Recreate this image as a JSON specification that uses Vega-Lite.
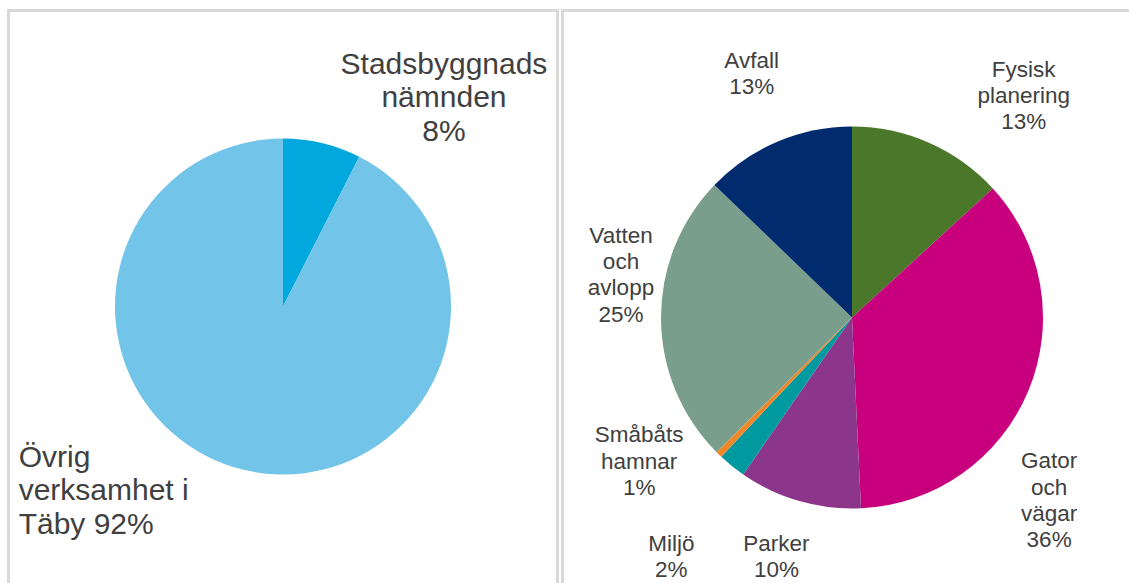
{
  "$schema": "https://vega.github.io/schema/vega-lite/v6.json",
  "background": "white",
  "padding": {"left": 6.5, "top": 8.5, "right": 0, "bottom": 0},
  "autosize": {"type": "pad"},
  "spacing": 5,
  "bounds": "flush",
  "resolve": {"scale": {"color": "independent", "theta": "independent"}},
  "config": {
    "view": {"stroke": "#d9d9d9", "strokeWidth": 3},
    "text": {"font": "Liberation Sans", "fill": "#404040", "lineBreak": "\n", "baseline": "middle"}
  },
  "datasets": {
    "left": [
      {"name": "Stadsbyggnads", "label": "Stadsbyggnads\nnämnden\n8%", "value": 7.5, "order": 1},
      {"name": "Övrig", "label": "Övrig\nverksamhet i\nTäby 92%", "value": 92.5, "order": 2}
    ],
    "right": [
      {"name": "Fysisk", "label": "Fysisk\nplanering\n13%", "value": 13.2, "order": 1},
      {"name": "Gator", "label": "Gator\noch\nvägar\n36%", "value": 36.05, "order": 2},
      {"name": "Parker", "label": "Parker\n10%", "value": 10.4, "order": 3},
      {"name": "Miljö", "label": "Miljö\n2%", "value": 2.35, "order": 4},
      {"name": "Småbåts", "label": "Småbåts\nhamnar\n1%", "value": 0.55, "order": 5},
      {"name": "Vatten", "label": "Vatten\noch\navlopp\n25%", "value": 24.65, "order": 6},
      {"name": "Avfall", "label": "Avfall\n13%", "value": 12.8, "order": 7}
    ]
  },
  "hconcat": [
    {
      "width": 549,
      "height": 592,
      "view": {"stroke": "#d9d9d9", "strokeWidth": 3, "fill": "white"},
      "data": {"name": "left"},
      "encoding": {
        "theta": {"field": "value", "type": "quantitative", "stack": true},
        "order": {"field": "order", "type": "quantitative"}
      },
      "layer": [
        {
          "mark": {"type": "arc", "radius": 168},
          "encoding": {
            "color": {"field": "name", "type": "nominal", "legend": null,
              "scale": {"domain": ["Stadsbyggnads", "Övrig"], "range": ["#00a8de", "#72c5e8"]}}
          }
        },
        {
          "mark": {"type": "text", "radius": 214, "dx": 111, "dy": -33.5, "align": "center", "lineHeight": 33.5},
          "encoding": {
            "text": {"condition": {"test": "datum.name === 'Stadsbyggnads'", "field": "label"}, "value": ""},
            "size": {"condition": {"test": "datum.name === 'Stadsbyggnads'", "value": 30}, "value": 0}
          }
        },
        {
          "mark": {"type": "text", "radius": 190, "dx": -220, "dy": -33.5, "align": "left", "lineHeight": 33.5},
          "encoding": {
            "text": {"condition": {"test": "datum.name === 'Övrig'", "field": "label"}, "value": ""},
            "size": {"condition": {"test": "datum.name === 'Övrig'", "value": 30}, "value": 0}
          }
        }
      ]
    },
    {
      "width": 579,
      "height": 614,
      "view": {"stroke": "#d9d9d9", "strokeWidth": 3, "fill": "white"},
      "data": {"name": "right"},
      "encoding": {
        "theta": {"field": "value", "type": "quantitative", "stack": true},
        "order": {"field": "order", "type": "quantitative"}
      },
      "layer": [
        {
          "mark": {"type": "arc", "radius": 191},
          "encoding": {
            "color": {"field": "name", "type": "nominal", "legend": null,
              "scale": {"domain": ["Fysisk", "Gator", "Parker", "Miljö", "Småbåts", "Vatten", "Avfall"],
                "range": ["#4a7729", "#c8007d", "#8b368b", "#00999f", "#f0882a", "#7a9e8c", "#002b6e"]}}
          }
        },
        {
          "mark": {"type": "text", "radius": 250, "dx": 71, "dy": -19, "align": "center", "lineHeight": 26.3},
          "encoding": {
            "text": {"condition": {"test": "datum.name === 'Fysisk'", "field": "label"}, "value": ""},
            "size": {"condition": {"test": "datum.name === 'Fysisk'", "value": 22.5}, "value": 0}
          }
        },
        {
          "mark": {"type": "text", "radius": 250, "dx": -34, "dy": 48.5, "align": "center", "lineHeight": 26.3},
          "encoding": {
            "text": {"condition": {"test": "datum.name === 'Gator'", "field": "label"}, "value": ""},
            "size": {"condition": {"test": "datum.name === 'Gator'", "value": 22.5}, "value": 0}
          }
        },
        {
          "mark": {"type": "text", "radius": 252, "dx": -6, "dy": -16, "align": "center", "lineHeight": 26.3},
          "encoding": {
            "text": {"condition": {"test": "datum.name === 'Parker'", "field": "label"}, "value": ""},
            "size": {"condition": {"test": "datum.name === 'Parker'", "value": 22.5}, "value": 0}
          }
        },
        {
          "mark": {"type": "text", "radius": 300, "dx": 8, "dy": -7, "align": "center", "lineHeight": 26.3},
          "encoding": {
            "text": {"condition": {"test": "datum.name === 'Miljö'", "field": "label"}, "value": ""},
            "size": {"condition": {"test": "datum.name === 'Miljö'", "value": 22.5}, "value": 0}
          }
        },
        {
          "mark": {"type": "text", "radius": 258, "dx": -33, "dy": -67, "align": "center", "lineHeight": 26.3},
          "encoding": {
            "text": {"condition": {"test": "datum.name === 'Småbåts'", "field": "label"}, "value": ""},
            "size": {"condition": {"test": "datum.name === 'Småbåts'", "value": 22.5}, "value": 0}
          }
        },
        {
          "mark": {"type": "text", "radius": 234, "dx": 3, "dy": -83.5, "align": "center", "lineHeight": 26.3},
          "encoding": {
            "text": {"condition": {"test": "datum.name === 'Vatten'", "field": "label"}, "value": ""},
            "size": {"condition": {"test": "datum.name === 'Vatten'", "value": 22.5}, "value": 0}
          }
        },
        {
          "mark": {"type": "text", "radius": 264, "dx": 3, "dy": -14, "align": "center", "lineHeight": 26.3},
          "encoding": {
            "text": {"condition": {"test": "datum.name === 'Avfall'", "field": "label"}, "value": ""},
            "size": {"condition": {"test": "datum.name === 'Avfall'", "value": 22.5}, "value": 0}
          }
        }
      ]
    }
  ]
}
